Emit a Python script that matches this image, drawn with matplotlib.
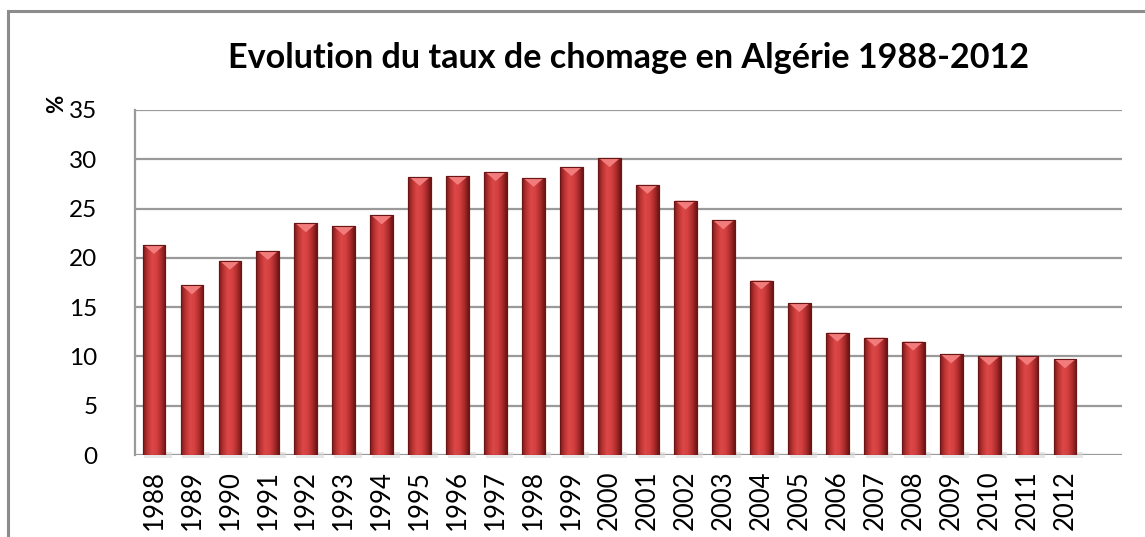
import matplotlib
matplotlib.use('Agg')
import matplotlib.pyplot as plt
import numpy as np
from matplotlib.colors import LinearSegmentedColormap
from matplotlib.patches import Polygon, Rectangle

annees = ['1988', '1989', '1990', '1991', '1992', '1993', '1994', '1995', '1996',
          '1997', '1998', '1999', '2000', '2001', '2002', '2003', '2004', '2005',
          '2006', '2007', '2008', '2009', '2010', '2011', '2012']
taux = [21.3, 17.2, 19.7, 20.7, 23.5, 23.2, 24.3, 28.2, 28.3, 28.7, 28.1, 29.2,
        30.1, 27.4, 25.8, 23.8, 17.7, 15.4, 12.4, 11.9, 11.5, 10.2, 10.0, 10.0, 9.7]
yticks = [0, 5, 10, 15, 20, 25, 30, 35]

plt.rcParams['font.family'] = ['Lato', 'DejaVu Sans']

fig = plt.figure(figsize=(11.45, 5.37), dpi=100)
ax = fig.add_axes([135/1145, 1 - 455/537, 987/1145, 345/537])

# cadre exterieur (gauche + haut seulement visibles)
fig.add_artist(Rectangle((8/1145, -0.2), 1.2, 1 - 10.5/537 + 0.2, transform=fig.transFigure,
                         fill=False, edgecolor='#8c8c8c', linewidth=2.2, zorder=0))

x = np.arange(len(annees))
w = 0.6
cmap = LinearSegmentedColormap.from_list('rouge', ['#7e1a1a', '#bc3434', '#dc4848',
                                                     '#d44040', '#ac2c2c', '#6e1414'])
grad = np.linspace(0, 1, 64).reshape(1, -1)

bars = ax.bar(x, taux, width=w, color='#c83a3a', edgecolor='#6a1616', linewidth=0.8, zorder=3)
for b, v in zip(bars, taux):
    x0 = b.get_x()
    # ombre
    ax.add_patch(Rectangle((x0 + 0.05, -0.35), w + 0.12, 0.7, color='#d8d8d8',
                           alpha=0.6, zorder=2, linewidth=0, clip_on=False))
    im = ax.imshow(grad, cmap=cmap, aspect='auto', extent=(x0, x0 + w, 0, v), zorder=4)
    im.set_clip_path(b)
    tri = Polygon([(x0 + 0.03, v), (x0 + w - 0.03, v), (x0 + w / 2, v - 0.9)],
                  closed=True, color='#f27c7c', zorder=5, linewidth=0)
    ax.add_patch(tri)
    ax.add_patch(Rectangle((x0, 0), w, v, fill=False, edgecolor='#6a1616', linewidth=0.8, zorder=6))

ax.set_xlim(-0.5, len(annees) + 0.5)
ax.set_ylim(0, 35)
ax.set_yticks(yticks)
ax.set_xticks(x)
ax.set_xticklabels(annees, rotation=90, fontsize=18.5)
ax.tick_params(axis='both', length=0)
ax.tick_params(axis='y', labelsize=17.5, pad=27)
ax.tick_params(axis='x', pad=11)
ax.yaxis.grid(True, color='#9a9a9a', linewidth=1.6, zorder=0)
ax.set_axisbelow(True)
for s in ['top', 'right', 'bottom']:
    ax.spines[s].set_visible(False)
ax.spines['left'].set_color('#9a9a9a')
ax.spines['left'].set_linewidth(1.6)

fig.text(57/1145, 1 - 104/537, '%', rotation=90, fontsize=16, fontweight='bold',
         ha='center', va='center')
fig.text(629/1145, 1 - 58/537, 'Evolution du taux de chomage en Algérie 1988-2012',
         fontsize=24.6, fontweight='bold', ha='center', va='center')

fig.savefig('out.png', dpi=100)
